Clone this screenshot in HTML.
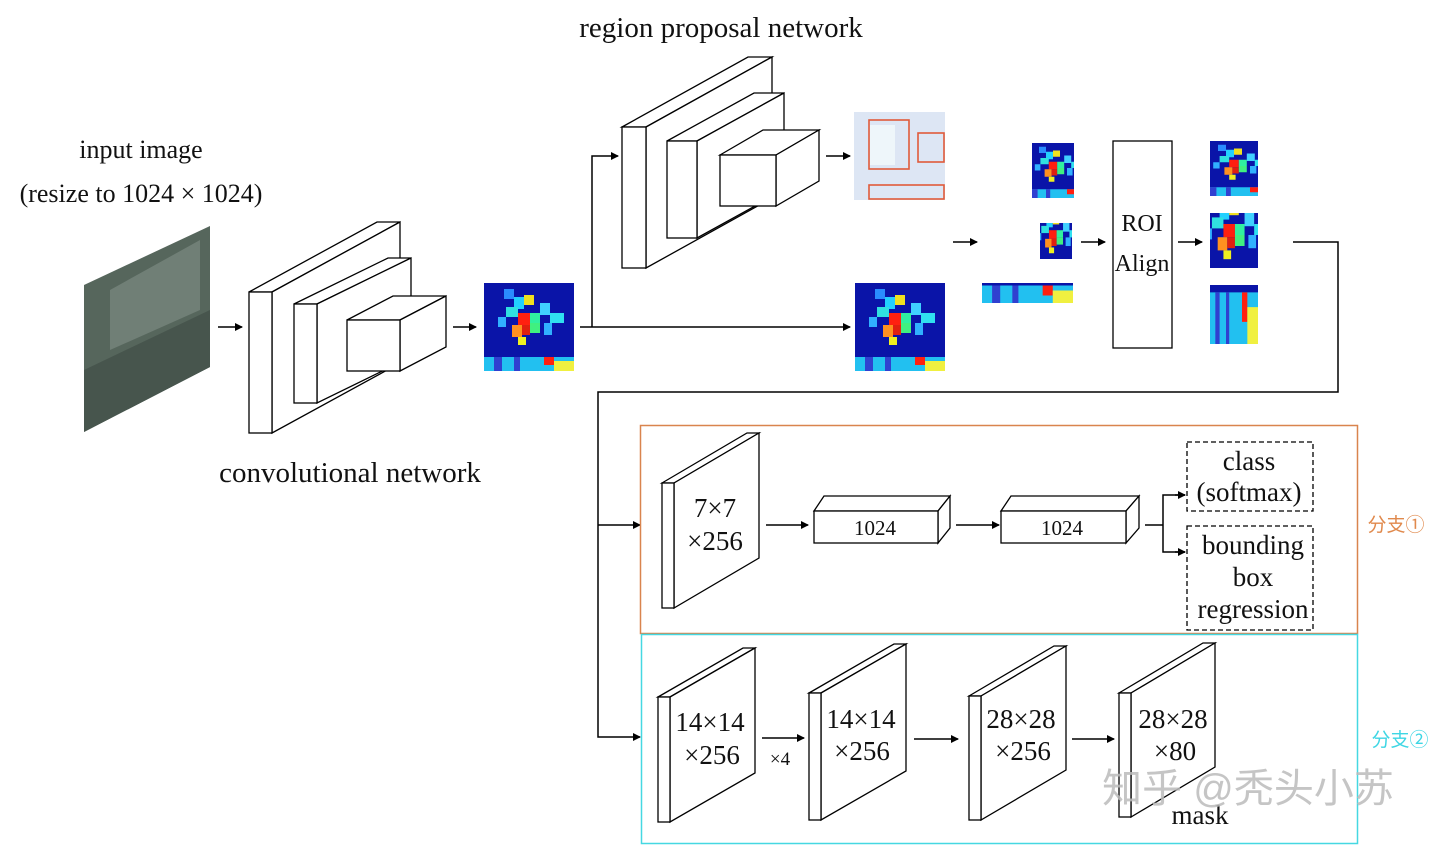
<!DOCTYPE html>
<html><head><meta charset="utf-8"><style>
html,body{margin:0;padding:0;background:#fff;}
svg{display:block;}
text{font-family:"Liberation Serif","Noto Serif CJK SC",serif;fill:#111;}
.cj{font-family:"Liberation Sans","Noto Sans CJK SC",sans-serif;}
</style></head><body>
<svg width="1440" height="845" viewBox="0 0 1440 845" xmlns="http://www.w3.org/2000/svg">
<defs>
<marker id="a" markerWidth="8" markerHeight="8" refX="7" refY="4" orient="auto" markerUnits="userSpaceOnUse"><path d="M0,0 L8,4 L0,8 z" fill="#000"/></marker>
<g id="hm">
<rect x="0" y="0" width="90" height="88" fill="#0a14a8"/>
<rect x="20" y="6" width="10" height="10" fill="#2a8cff"/><rect x="30" y="14" width="10" height="12" fill="#22d0ff"/>
<rect x="40" y="12" width="10" height="10" fill="#f0e020"/><rect x="22" y="24" width="12" height="10" fill="#30e0e0"/>
<rect x="34" y="30" width="12" height="12" fill="#ff2010"/><rect x="46" y="30" width="10" height="10" fill="#30f0a0"/>
<rect x="56" y="20" width="10" height="12" fill="#40d0ff"/><rect x="66" y="30" width="14" height="10" fill="#30e0f0"/>
<rect x="28" y="42" width="10" height="12" fill="#ff9020"/><rect x="38" y="42" width="8" height="10" fill="#e02010"/>
<rect x="46" y="40" width="10" height="10" fill="#40f080"/><rect x="60" y="40" width="8" height="12" fill="#30b0ff"/>
<rect x="14" y="34" width="8" height="10" fill="#30b0ff"/><rect x="34" y="54" width="8" height="8" fill="#f0f020"/>
<rect x="0" y="74" width="90" height="14" fill="#22c0f0"/><rect x="10" y="74" width="8" height="14" fill="#3040d0"/>
<rect x="30" y="74" width="6" height="14" fill="#3040d0"/><rect x="60" y="74" width="10" height="8" fill="#ff2010"/>
<rect x="70" y="78" width="20" height="10" fill="#f0f040"/>
</g>
</defs>

<text x="721" y="37" font-size="29" text-anchor="middle">region proposal network</text>
<text x="141" y="158" font-size="26" text-anchor="middle">input image</text>
<text x="141" y="202" font-size="26" text-anchor="middle">(resize to 1024 × 1024)</text>
<text x="350" y="482" font-size="29" text-anchor="middle">convolutional network</text>

<!-- input image -->
<polygon points="84,285 210,226 210,367 84,432" fill="#56665c"/>
<polygon points="110,290 200,240 200,310 110,350" fill="#8a978f" opacity="0.5"/>
<polygon points="84,370 210,310 210,367 84,432" fill="#47554d"/>

<g fill="none" stroke="#000" stroke-width="1.5">
<line x1="218" y1="327" x2="242" y2="327" marker-end="url(#a)"/>
<line x1="453" y1="327" x2="476" y2="327" marker-end="url(#a)"/>
<line x1="580" y1="327" x2="850" y2="327" marker-end="url(#a)"/>
<polyline points="592,327 592,156 618,156" marker-end="url(#a)"/>
<line x1="826" y1="156" x2="850" y2="156" marker-end="url(#a)"/>
<line x1="953" y1="242" x2="977" y2="242" marker-end="url(#a)"/>
<line x1="1081" y1="242" x2="1105" y2="242" marker-end="url(#a)"/>
<line x1="1178" y1="242" x2="1202" y2="242" marker-end="url(#a)"/>
<polyline points="1293,242 1338,242 1338,392 598,392 598,737 640,737" marker-end="url(#a)"/>
<line x1="598" y1="525" x2="640" y2="525" marker-end="url(#a)"/>
<line x1="766" y1="525" x2="808" y2="525" marker-end="url(#a)"/>
<line x1="956" y1="525" x2="999" y2="525" marker-end="url(#a)"/>
<line x1="1145" y1="525" x2="1163" y2="525"/>
<polyline points="1185,495 1163,495 1163,552 1185,552"/>
<line x1="1175" y1="495" x2="1185" y2="495" marker-end="url(#a)"/>
<line x1="1175" y1="552" x2="1185" y2="552" marker-end="url(#a)"/>
<line x1="762" y1="738" x2="804" y2="738" marker-end="url(#a)"/>
<line x1="914" y1="739" x2="958" y2="739" marker-end="url(#a)"/>
<line x1="1072" y1="739" x2="1114" y2="739" marker-end="url(#a)"/>
</g>

<g fill="#fff" stroke="#000" stroke-width="1.3">
<polygon points="249,292 377,222 400,222 272,292"/><polygon points="272,292 400,222 400,363 272,433"/><rect x="249" y="292" width="23" height="141"/>
<polygon points="294,304 388,258 411,258 317,304"/><polygon points="317,304 411,258 411,357 317,403"/><rect x="294" y="304" width="23" height="99"/>
<polygon points="347,320 393,296 446,296 400,320"/><polygon points="400,320 446,296 446,347 400,371"/><rect x="347" y="320" width="53" height="51"/>
<polygon points="622,127 748,57 772,57 646,127"/><polygon points="646,127 772,57 772,198 646,268"/><rect x="622" y="127" width="24" height="141"/>
<polygon points="667,141 754,93 784,93 697,141"/><polygon points="697,141 784,93 784,190 697,238"/><rect x="667" y="141" width="30" height="97"/>
<polygon points="720,155 763,130 819,130 776,155"/><polygon points="776,155 819,130 819,181 776,206"/><rect x="720" y="155" width="56" height="51"/>
<rect x="1113" y="141" width="59" height="207"/>
<polygon points="662,483 747,433 759,433 674,483"/><polygon points="674,483 759,433 759,558 674,608"/><rect x="662" y="483" width="12" height="125"/>
<polygon points="814,511 824,496 950,496 938,511"/><polygon points="938,511 950,496 950,528 938,543"/><rect x="814" y="511" width="124" height="32"/>
<polygon points="1001,511 1011,496 1139,496 1126,511"/><polygon points="1126,511 1139,496 1139,528 1126,543"/><rect x="1001" y="511" width="125" height="32"/>
<polygon points="658,697 743,648 755,648 670,697"/><polygon points="670,697 755,648 755,773 670,822"/><rect x="658" y="697" width="12" height="125"/>
<polygon points="809,693 894,644 906,644 821,693"/><polygon points="821,693 906,644 906,771 821,820"/><rect x="809" y="693" width="12" height="127"/>
<polygon points="969,696 1054,646 1066,646 981,696"/><polygon points="981,696 1066,646 1066,770 981,820"/><rect x="969" y="696" width="12" height="124"/>
<polygon points="1119,693 1203,643 1215,643 1131,693"/><polygon points="1131,693 1215,643 1215,767 1131,817"/><rect x="1119" y="693" width="12" height="124"/>
</g>

<use href="#hm" x="484" y="283"/>
<use href="#hm" x="855" y="283"/>
<rect x="854" y="112" width="91" height="88" fill="#dde6f4"/>
<rect x="870" y="125" width="25" height="40" fill="#eef6fa"/>
<g fill="none" stroke="#e05a3a" stroke-width="1.6">
<rect x="869" y="120" width="40" height="49"/><rect x="918" y="133" width="26" height="29"/><rect x="869" y="185" width="75" height="14"/>
</g>
<svg x="1032" y="143" width="42" height="55" viewBox="10 0 60 88" preserveAspectRatio="none"><use href="#hm"/></svg>
<svg x="1040" y="223" width="32" height="36" viewBox="20 20 50 50" preserveAspectRatio="none"><use href="#hm"/></svg>
<svg x="982" y="283" width="91" height="20" viewBox="0 72 90 16" preserveAspectRatio="none"><use href="#hm"/></svg>
<svg x="1210" y="141" width="48" height="55" viewBox="10 0 60 88" preserveAspectRatio="none"><use href="#hm"/></svg>
<svg x="1210" y="213" width="48" height="55" viewBox="20 20 50 50" preserveAspectRatio="none"><use href="#hm"/></svg>
<svg x="1210" y="285" width="48" height="59" viewBox="0 72 90 16" preserveAspectRatio="none"><use href="#hm"/></svg>

<text x="1142" y="231" font-size="24" text-anchor="middle">ROI</text>
<text x="1142" y="271" font-size="24" text-anchor="middle">Align</text>

<rect x="640.5" y="425.5" width="717" height="208" fill="none" stroke="#d9844e" stroke-width="1.5"/>
<rect x="641.5" y="634.5" width="716" height="209" fill="none" stroke="#45d8e2" stroke-width="1.5"/>
<text x="1396" y="531" font-size="19" text-anchor="middle" class="cj" style="fill:#e0894c">分支①</text>
<text x="1400" y="746" font-size="19" text-anchor="middle" class="cj" style="fill:#3ed6e4">分支②</text>

<g fill="none" stroke="#000" stroke-width="1.3" stroke-dasharray="5,3">
<rect x="1187" y="442" width="126" height="69"/>
<rect x="1187" y="526" width="126" height="104"/>
</g>

<g font-size="27" text-anchor="middle">
<text x="715" y="517">7×7</text><text x="715" y="550">×256</text>
<text x="875" y="535" font-size="21">1024</text><text x="1062" y="535" font-size="21">1024</text>
<text x="1249" y="470">class</text><text x="1249" y="501">(softmax)</text>
<text x="1253" y="554">bounding</text><text x="1253" y="586">box</text><text x="1253" y="618">regression</text>
<text x="710" y="731">14×14</text><text x="712" y="764">×256</text>
<text x="780" y="765" font-size="19">×4</text>
<text x="861" y="728">14×14</text><text x="862" y="760">×256</text>
<text x="1021" y="728">28×28</text><text x="1023" y="760">×256</text>
<text x="1173" y="728">28×28</text><text x="1175" y="760">×80</text>
<text x="1200" y="824">mask</text>
</g>
<text x="1248" y="802" font-size="40" text-anchor="middle" class="cj" style="fill:#bbb;opacity:0.85">知乎 @秃头小苏</text>
</svg>
</body></html>
